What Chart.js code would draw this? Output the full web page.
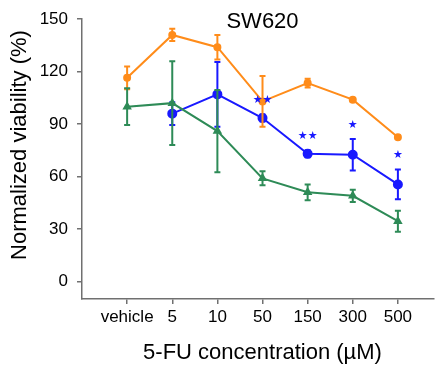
<!DOCTYPE html>
<html>
<head>
<meta charset="utf-8">
<script src="https://cdn.jsdelivr.net/npm/chart.js@4.4.1/dist/chart.umd.min.js"></script>
<style>
  html, body { margin: 0; padding: 0; background: #fff; }
</style>
</head>
<body>
<canvas id="myChart" width="440" height="374"></canvas>
<script>
//----DATA----
const categories = ['vehicle', '5', '10', '50', '150', '300', '500'];
const yTicks = [0, 30, 60, 90, 120, 150];

const orangeMean = [116.5, 141, 134, 103, 113.5, 104, 82.5];
const orangeErr  = [6.5, 3.5, 7, 14.5, 2.5, 1, 1];

const blueMean = [null, 96, 107, 93.5, 73, 72.5, 55.5];
const blueErr  = [null, 6.5, 18.5, 2, 2, 9, 8.5];

const greenMean = [100, 102, 86, 59, 51, 49, 34.5];
const greenErr  = [10.5, 24, 23.5, 4, 4.5, 3.5, 6];

// significance marks for the blue series
const blueStars = ['', '', '', '\u2605\u2605', '\u2605\u2605', '\u2605', '\u2605'];

const FONT = '"Liberation Sans", Arial, Helvetica, sans-serif';
const ORANGE = 'rgb(255,140,26)';
const BLUE = 'rgb(25,25,255)';
const GREEN = 'rgb(46,139,87)';
const AXIS = '#707070';

const toPoints = arr => arr.map((v, i) => ({x: i, y: v}));

const data = {
  datasets: [
    {label: 'green', data: toPoints(greenMean), err: greenErr, borderColor: GREEN, backgroundColor: GREEN,
     pointStyle: 'triangle', pointRadius: 3.5, borderWidth: 2},
    {label: 'orange', data: toPoints(orangeMean), err: orangeErr, borderColor: ORANGE, backgroundColor: ORANGE,
     pointStyle: 'circle', pointRadius: 3, borderWidth: 2},
    {label: 'blue', data: toPoints(blueMean), err: blueErr, borderColor: BLUE, backgroundColor: BLUE,
     pointStyle: 'circle', pointRadius: 4, borderWidth: 2}
  ]
};

//----PLUGINS----
const errorBars = {
  id: 'errorBars',
  beforeDatasetDraw(chart, args) {
    const { ctx, scales: {x, y} } = chart;
    const ds = chart.data.datasets[args.index];
    ctx.save();
    ctx.strokeStyle = ds.borderColor;
    ctx.lineWidth = 2;
    ds.data.forEach((p, i) => {
      if (p.y == null) return;
      const px = x.getPixelForValue(p.x);
      const top = y.getPixelForValue(p.y + ds.err[i]);
      const bot = y.getPixelForValue(p.y - ds.err[i]);
      ctx.beginPath();
      ctx.moveTo(px, top); ctx.lineTo(px, bot);
      ctx.moveTo(px - 3, top); ctx.lineTo(px + 3, top);
      ctx.moveTo(px - 3, bot); ctx.lineTo(px + 3, bot);
      ctx.stroke();
    });
    ctx.restore();
  }
};

const labels = {
  id: 'labels',
  afterDraw(chart) {
    const { ctx, scales: {x, y} } = chart;
    ctx.save();
    ctx.fillStyle = '#000';
    ctx.textAlign = 'center';
    ctx.textBaseline = 'middle';
    ctx.font = '22px ' + FONT;
    ctx.fillText('SW620', x.getPixelForValue(3), 22);
    ctx.fillText('5-FU concentration (\u00B5M)', x.getPixelForValue(3), 353);
    ctx.save();
    ctx.translate(20, 145);
    ctx.rotate(-Math.PI / 2);
    ctx.fillText('Normalized viability (%)', 0, 0);
    ctx.restore();
    // stars
    ctx.fillStyle = BLUE;
    ctx.font = '11px "DejaVu Sans", sans-serif';
    blueStars.forEach((s, i) => {
      if (!s) return;
      ctx.fillText(s, x.getPixelForValue(i), y.getPixelForValue(blueMean[i] + blueErr[i] + 8));
    });
    ctx.restore();
  }
};

//----CONFIG----
const config = {
  type: 'line',
  data,
  options: {
    responsive: false,
    animation: false,
    layout: {padding: {top: 19, right: 0, left: 0, bottom: 0}},
    scales: {
      x: {
        type: 'linear',
        min: -1, max: 6.8,
        afterBuildTicks: s => { s.ticks = categories.map((c, i) => ({value: i})); },
        afterFit: s => { s.height = 75; },
        ticks: {
          autoSkip: false, maxRotation: 0, padding: 3, color: '#000',
          font: {family: FONT, size: 17},
          callback: v => categories[v]
        },
        grid: {drawOnChartArea: false, drawTicks: true, tickLength: 5, color: AXIS, lineWidth: 1.5},
        border: {display: true, color: AXIS, width: 1.5}
      },
      y: {
        min: -10, max: 150,
        afterBuildTicks: s => { s.ticks = yTicks.map(v => ({value: v})); },
        afterFit: s => { s.width = 82; },
        ticks: {padding: 9, color: '#000', font: {family: FONT, size: 17}},
        grid: {drawOnChartArea: false, drawTicks: true, tickLength: 5, color: AXIS, lineWidth: 1.5},
        border: {display: true, color: AXIS, width: 1.5}
      }
    },
    plugins: {
      legend: {display: false},
      tooltip: {enabled: false}
    }
  },
  plugins: [errorBars, labels]
};

const myChart = new Chart(document.getElementById('myChart'), config);
</script>
</body>
</html>
